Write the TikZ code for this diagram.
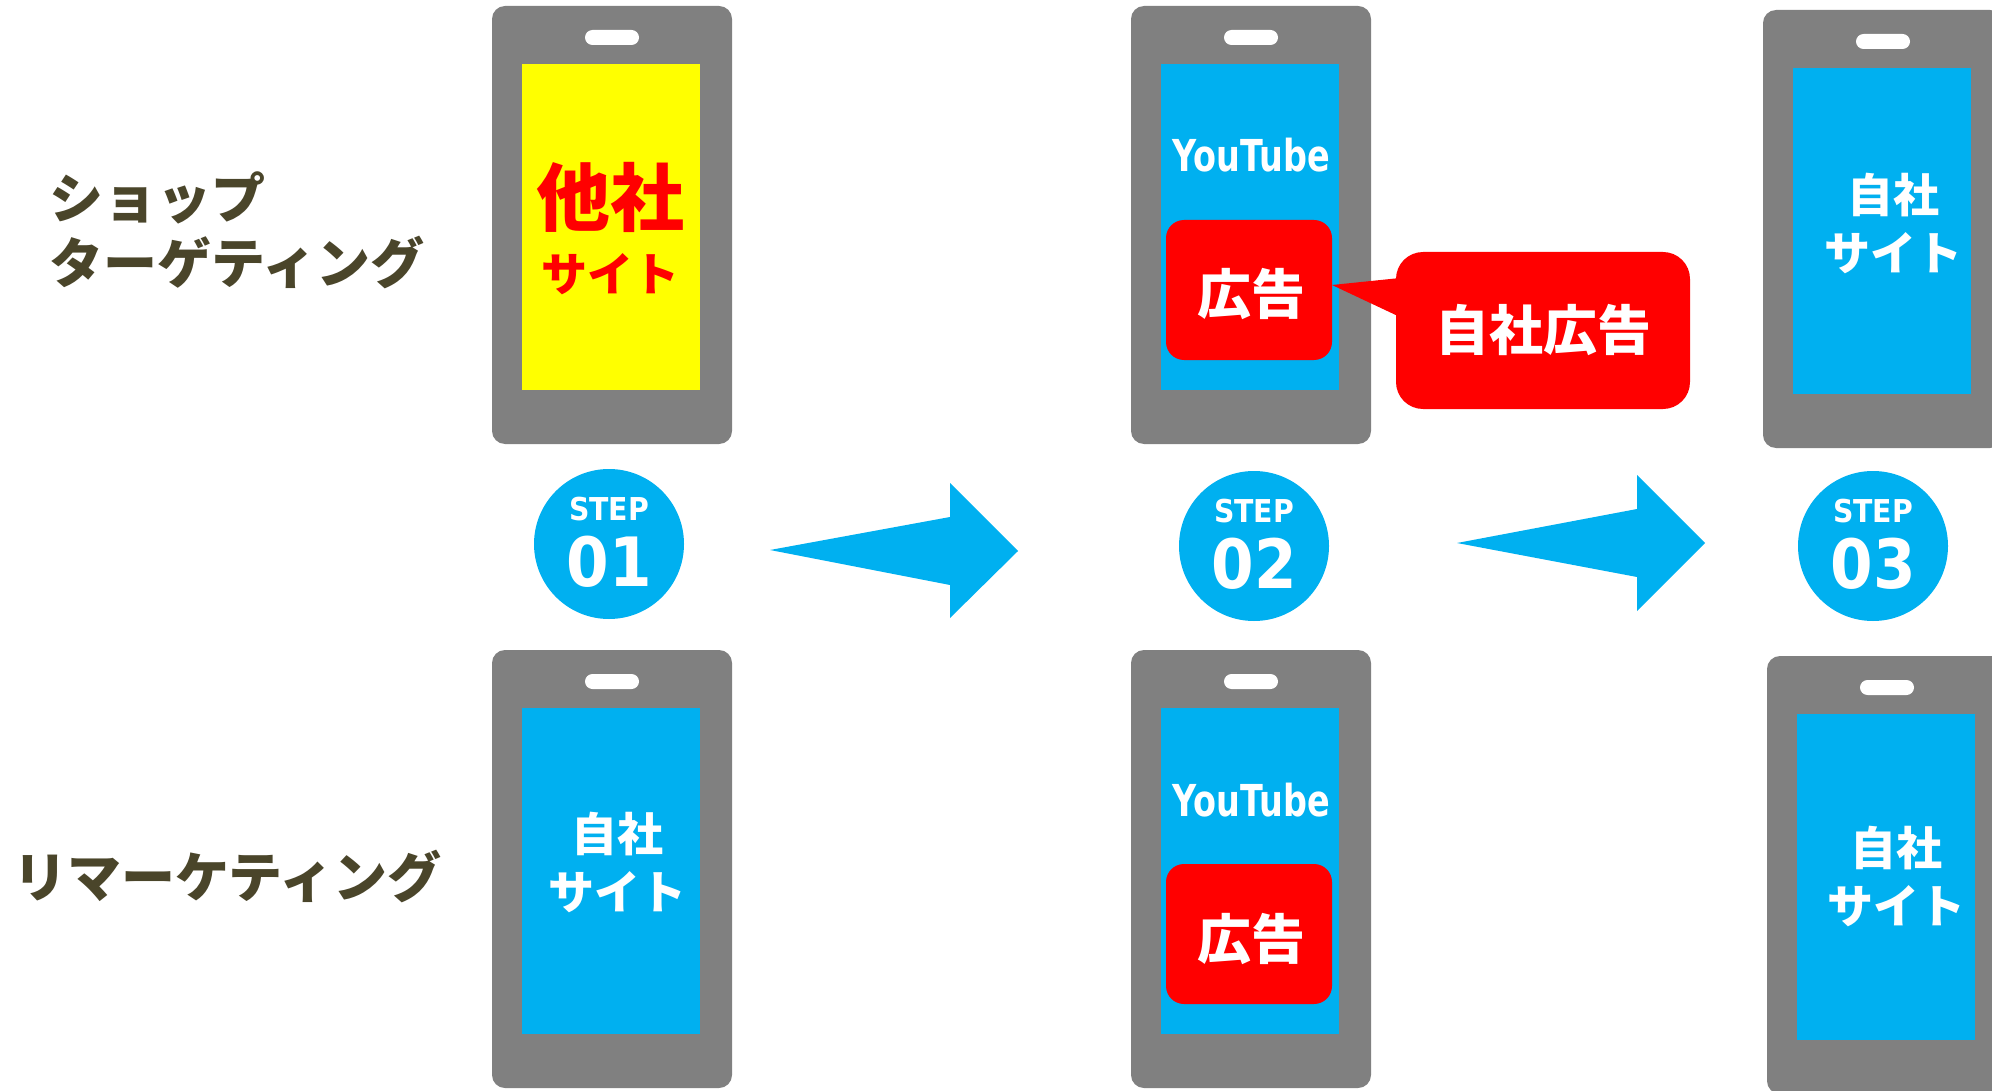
\documentclass[tikz,border=0pt]{standalone}
\usepackage{fontspec}
\newfontfamily\jp{Noto Sans CJK JP}
\newfontfamily\lat{DejaVu Sans}
\definecolor{phonegray}{RGB}{128,128,128}
\definecolor{scrblue}{RGB}{0,176,240}
\definecolor{adred}{RGB}{255,0,0}
\definecolor{scryellow}{RGB}{255,255,0}
\definecolor{labelc}{RGB}{74,69,42}
\tikzset{
  phonebody/.style={fill=phonegray, rounded corners=6.5pt},
  speaker/.style={fill=white, rounded corners=3.75pt},
  screenbox/.style={fill=#1, inner sep=0pt, outer sep=0pt, minimum width=89pt, minimum height=163pt, anchor=north west},
  adbox/.style={fill=adred, inner sep=0pt, outer sep=0pt, minimum width=83pt, minimum height=70pt, rounded corners=9pt, anchor=north west},
  jptext/.style={inner sep=0pt, outer sep=0pt, align=center, font=\jp\bfseries\fontsize{#1}{29pt}\selectfont},
  sitetext/.style={jptext=23pt, text=white},
  lbl/.style={inner sep=0pt, anchor=west, align=left, text=labelc, font=\jp\bfseries\fontsize{27pt}{32.5pt}\selectfont},
  stepcircle/.style={circle, fill=scrblue, inner sep=0pt, minimum size=75pt},
  steplbl/.style={inner sep=0pt, text=white, font=\lat\bfseries\fontsize{15.75pt}{18pt}\selectfont},
  stepnum/.style={inner sep=0pt, text=white, font=\lat\bfseries\fontsize{34pt}{38pt}\selectfont},
  blockarrow/.style={fill=scrblue},
}
\newcommand\mkphone[4]{% name, x, y, screen colour
  \fill[phonebody] (#2,#3) rectangle ++(240,438);
  \fill[speaker] ({#2+93},{#3+24}) rectangle ++(54,15);
  \node[screenbox=#4] (#1) at ({#2+30},{#3+58}) {};
}
\begin{document}
\begin{tikzpicture}[x=0.5pt,y=-0.5pt]
\clip (0,0) rectangle (1992,1091);
\fill[white] (0,0) rectangle (1992,1091);

% labels
\node[lbl] (lshop) at (49,230.5) {ショップ\\ターゲティング};
\node[lbl] (lremk) at (13,876) {リマーケティング};

% phones
\mkphone{sA1}{492}{6}{scryellow}
\mkphone{sB1}{1131}{6}{scrblue}
\mkphone{sC1}{1763}{10}{scrblue}
\mkphone{sA2}{492}{650}{scrblue}
\mkphone{sB2}{1131}{650}{scrblue}
\mkphone{sC2}{1767}{656}{scrblue}

% screen contents
\node[jptext=37pt, text=adred] (tA1a) at (610,197) {他社};
\node[jptext=23pt, text=adred] (tA1b) at (610,274) {サイト};
\node[sitetext] (tA2) at (617,862) {自社\\サイト};
\node[sitetext] (tC1) at (1893,223.5) {自社\\サイト};
\node[sitetext] (tC2) at (1896,876) {自社\\サイト};

\node[inner sep=0pt, text=white, font=\lat\bfseries\fontsize{22pt}{26pt}\selectfont] (yt1) at (1251,155) {\scalebox{0.76}[1]{YouTube}};
\node[inner sep=0pt, text=white, font=\lat\bfseries\fontsize{22pt}{26pt}\selectfont] (yt2) at (1251,800) {\scalebox{0.76}[1]{YouTube}};

\node[adbox] (ad1) at (1166,220) {};
\node[adbox] (ad2) at (1166,864) {};
\node[jptext=27pt, text=white] (adt1) at (1251,294) {広告};
\node[jptext=27pt, text=white] (adt2) at (1251,939) {広告};

% callout
\node[fill=adred, inner sep=0pt, outer sep=0pt, minimum width=147pt, minimum height=78.5pt, rounded corners=13.5pt, anchor=north west] (callout) at (1396,252) {};
\fill[adred] ([yshift=-13pt,xshift=2pt]callout.north west) -- ([yshift=2.5pt]ad1.east) -- ([yshift=-32.5pt,xshift=2pt]callout.north west) -- cycle;
\node[jptext=27pt, text=white] (callt) at (callout.center) {自社広告};

% steps
\node[stepcircle] (c1) at (609,544) {};
\node[stepcircle] (c2) at (1254,546) {};
\node[stepcircle] (c3) at (1873,546) {};
\node[steplbl] (s1) at (609,509.5) {\scalebox{0.9}[1]{STEP}};
\node[steplbl] (s2) at (1254,511) {\scalebox{0.9}[1]{STEP}};
\node[steplbl] (s3) at (1873,511) {\scalebox{0.9}[1]{STEP}};
\node[stepnum] (n1) at (609,562) {\scalebox{0.9}[1]{01}};
\node[stepnum] (n2) at (1254,563.5) {\scalebox{0.9}[1]{02}};
\node[stepnum] (n3) at (1873,563.5) {\scalebox{0.9}[1]{03}};

% block arrows
\fill[blockarrow] (770,550) -- (950,517) -- (950,483) -- (1018,551) -- (950,618) -- (950,585) -- cycle;
\fill[blockarrow] (1457,543) -- (1637,509) -- (1637,475) -- (1705,543) -- (1637,611) -- (1637,577) -- cycle;
\end{tikzpicture}
\end{document}
